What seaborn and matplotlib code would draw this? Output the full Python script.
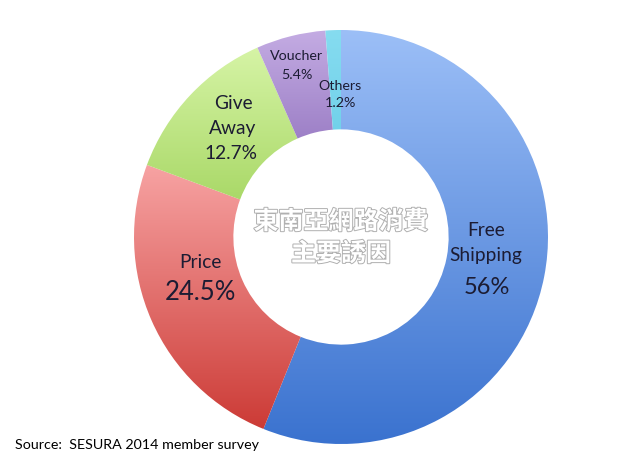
import numpy as np
import matplotlib
matplotlib.use("Agg")
import matplotlib.pyplot as plt
import matplotlib.patheffects as pe
from matplotlib.colors import LinearSegmentedColormap
import seaborn as sns

# Data
categories = ["Free Shipping", "Price", "Give Away", "Voucher", "Others"]
shares = [56.0, 24.5, 12.7, 5.4, 1.2]
pct_labels = ["56%", "24.5%", "12.7%", "5.4%", "1.2%"]

# light (top) / dark (bottom) colour for each slice
top_colors = ["#9cbff7", "#f7a3a3", "#d6f4a6", "#c4ace3", "#86dcf0"]
bottom_colors = ["#3a72cf", "#cc3b36", "#9fd259", "#7a58ad", "#5cc6e4"]

sns.set_theme(style="white")
plt.rcParams["font.family"] = ["Lato", "DejaVu Sans"]

fig = plt.figure(figsize=(6.27, 4.63), dpi=100)
# centre of donut at (341, 237) px, outer radius 207 px
cx, cy, R = 341, 237, 207
W, H = 627, 463
ax = fig.add_axes([(cx - R) / W, (H - cy - R) / H, 2 * R / W, 2 * R / H])
ax.set_xlim(-1, 1)
ax.set_ylim(-1, 1)
ax.set_aspect("equal")
ax.axis("off")

wedges, _ = ax.pie(shares, startangle=90, counterclock=False, radius=1,
                   wedgeprops=dict(width=0.48, linewidth=0, alpha=0))

# vertical gradient inside each wedge
for w, c1, c2 in zip(wedges, top_colors, bottom_colors):
    verts = w.get_path().vertices
    y0, y1 = verts[:, 1].min(), verts[:, 1].max()
    x0, x1 = verts[:, 0].min(), verts[:, 0].max()
    cmap = LinearSegmentedColormap.from_list("g", [c2, c1])
    grad = np.linspace(0, 1, 256).reshape(-1, 1)
    im = ax.imshow(grad, cmap=cmap, origin="lower", aspect="auto",
                   extent=[x0, x1, y0, y1], zorder=1)
    im.set_clip_path(w.get_path(), ax.transData)

ax.set_xlim(-1, 1)
ax.set_ylim(-1, 1)


def px(x, y):
    return (x - cx) / R, (cy - y) / R


txt = "#1c1c33"
# label layout (pixel positions in the reference)
name_pos = [(486, 243), (200, 262), (233, 116), (297, 56), (340, 86)]
name_text = ["Free\nShipping", "Price", "Give\nAway", "Voucher", "Others"]
name_size = [13.8, 13.8, 13.8, 10.3, 10.3]
pct_pos = [(487, 288), (200, 292), (231, 154), (297, 75), (340, 103)]
pct_size = [17, 18.5, 13.8, 10.3, 10.3]

for i in range(len(categories)):
    x, y = px(*name_pos[i])
    ax.text(x, y, name_text[i], ha="center", va="center", fontsize=name_size[i],
            color=txt, linespacing=1.55, zorder=5)
    x, y = px(*pct_pos[i])
    ax.text(x, y, pct_labels[i], ha="center", va="center", fontsize=pct_size[i],
            color=txt, zorder=5)

outline = [pe.withStroke(linewidth=1.4, foreground="#b0b0b0")]
for line, ypx in [("東南亞網路消費", 222), ("主要誘因", 254)]:
    x, y = px(cx, ypx)
    ax.text(x, y, line, ha="center", va="center", fontsize=18, color="white",
            family=["Noto Sans CJK TC", "DejaVu Sans"], fontweight="bold",
            path_effects=outline, zorder=5)

fig.text(15 / W, 1 - 445 / H, "Source:  SESURA 2014 member survey",
         ha="left", va="center", fontsize=10.3, color="black")

fig.savefig("out.png", dpi=100)
